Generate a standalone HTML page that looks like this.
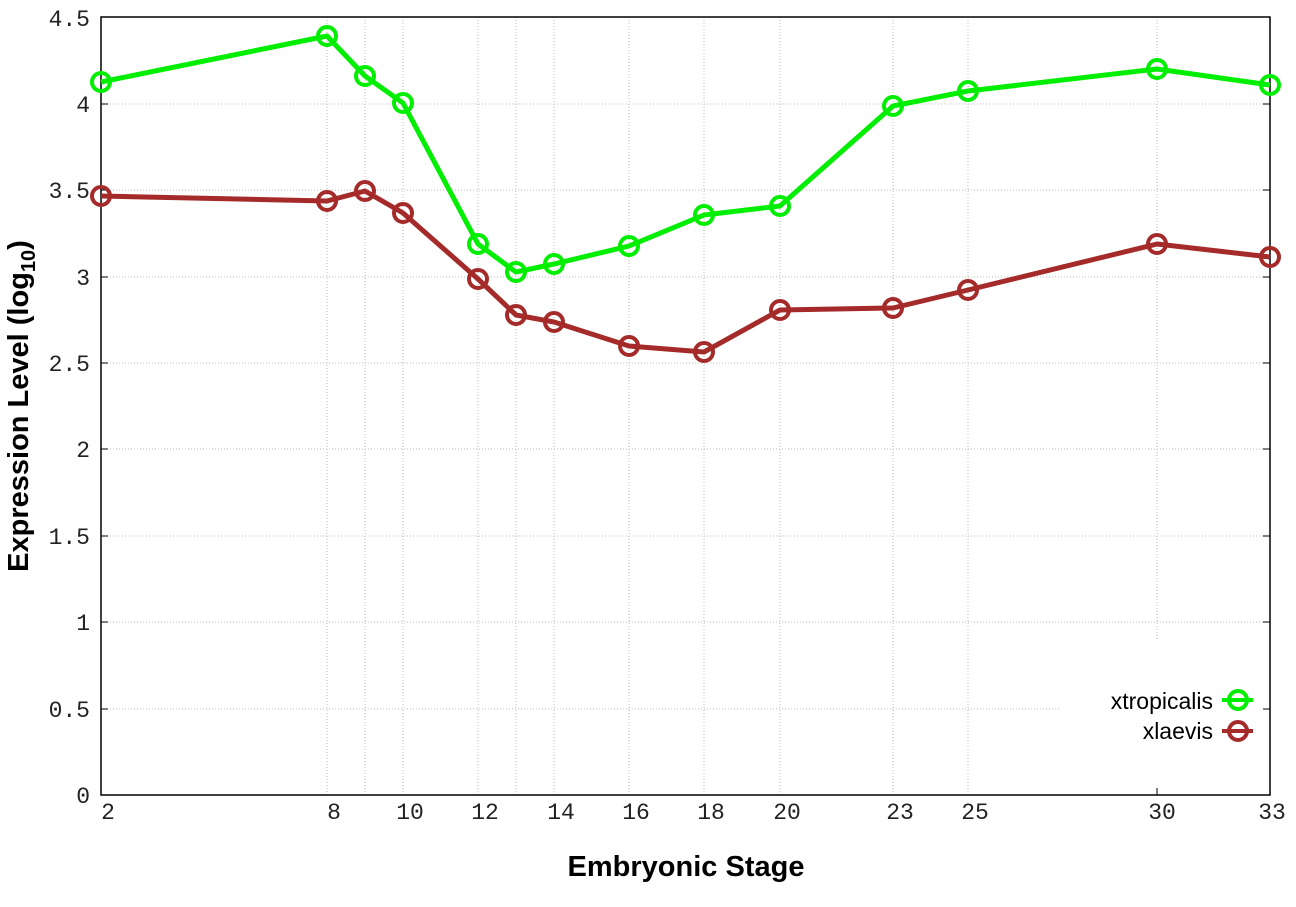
<!DOCTYPE html>
<html><head><style>body{margin:0;background:#fff}svg{display:block}</style></head><body>
<svg width="1296" height="907" xmlns="http://www.w3.org/2000/svg">
<rect width="1296" height="907" fill="#fff"/>
<g stroke="#bbb" stroke-width="1" stroke-dasharray="1,2">
<line x1="101" x2="1270" y1="104" y2="104"/><line x1="101" x2="1270" y1="190" y2="190"/><line x1="101" x2="1270" y1="277" y2="277"/><line x1="101" x2="1270" y1="363" y2="363"/><line x1="101" x2="1270" y1="449" y2="449"/><line x1="101" x2="1270" y1="536" y2="536"/><line x1="101" x2="1270" y1="622" y2="622"/><line x1="101" x2="1060" y1="709" y2="709"/>
<line x1="327" x2="327" y1="17" y2="795"/><line x1="365" x2="365" y1="17" y2="795"/><line x1="403" x2="403" y1="17" y2="795"/><line x1="478" x2="478" y1="17" y2="795"/><line x1="516" x2="516" y1="17" y2="795"/><line x1="554" x2="554" y1="17" y2="795"/><line x1="629" x2="629" y1="17" y2="795"/><line x1="704" x2="704" y1="17" y2="795"/><line x1="780" x2="780" y1="17" y2="795"/><line x1="893" x2="893" y1="17" y2="795"/><line x1="968" x2="968" y1="17" y2="795"/><line x1="1157" x2="1157" y1="17" y2="640"/>
</g>
<rect x="101" y="17" width="1169" height="778" fill="none" stroke="#000" stroke-width="1.5"/>
<g stroke="#000" stroke-width="1">
<line x1="101" x2="108" y1="104" y2="104"/><line x1="101" x2="108" y1="190" y2="190"/><line x1="101" x2="108" y1="277" y2="277"/><line x1="101" x2="108" y1="363" y2="363"/><line x1="101" x2="108" y1="449" y2="449"/><line x1="101" x2="108" y1="536" y2="536"/><line x1="101" x2="108" y1="622" y2="622"/><line x1="101" x2="108" y1="709" y2="709"/>
<line x1="1263" x2="1270" y1="104" y2="104"/><line x1="1263" x2="1270" y1="190" y2="190"/><line x1="1263" x2="1270" y1="277" y2="277"/><line x1="1263" x2="1270" y1="363" y2="363"/><line x1="1263" x2="1270" y1="449" y2="449"/><line x1="1263" x2="1270" y1="536" y2="536"/><line x1="1263" x2="1270" y1="622" y2="622"/><line x1="1263" x2="1270" y1="709" y2="709"/>
<line x1="1157" x2="1157" y1="788" y2="795"/>
</g>
<g font-family="Liberation Mono, monospace" font-size="23" fill="#222" text-anchor="end">
<text x="90" y="26">4.5</text><text x="90" y="112">4</text><text x="90" y="198">3.5</text><text x="90" y="285">3</text><text x="90" y="371">2.5</text><text x="90" y="457">2</text><text x="90" y="544">1.5</text><text x="90" y="630">1</text><text x="90" y="717">0.5</text><text x="90" y="803">0</text>
</g>
<g font-family="Liberation Mono, monospace" font-size="23" fill="#222" text-anchor="middle">
<text x="108" y="819">2</text><text x="334" y="819">8</text><text x="410" y="819">10</text><text x="485" y="819">12</text><text x="561" y="819">14</text><text x="636" y="819">16</text><text x="711" y="819">18</text><text x="787" y="819">20</text><text x="900" y="819">23</text><text x="975" y="819">25</text><text x="1162" y="819">30</text><text x="1272" y="819">33</text>
</g>
<text x="686" y="876" font-family="Liberation Sans, sans-serif" font-weight="bold" font-size="29" text-anchor="middle">Embryonic Stage</text>
<text transform="translate(28,406) rotate(-90)" font-family="Liberation Sans, sans-serif" font-weight="bold" font-size="29" text-anchor="middle">Expression Level (log<tspan font-size="20" dy="7">10</tspan><tspan dy="-7">)</tspan></text>
<g fill="none" stroke="#00ee00" stroke-width="5" stroke-linejoin="round">
<polyline points="101,82 327,36 365,76 403,103 478,244 516,272 554,264 629,246 704,215 780,206 893,106 968,91 1157,69 1270,85"/>
<g stroke-width="4"><circle cx="101" cy="82" r="9"/><circle cx="327" cy="36" r="9"/><circle cx="365" cy="76" r="9"/><circle cx="403" cy="103" r="9"/><circle cx="478" cy="244" r="9"/><circle cx="516" cy="272" r="9"/><circle cx="554" cy="264" r="9"/><circle cx="629" cy="246" r="9"/><circle cx="704" cy="215" r="9"/><circle cx="780" cy="206" r="9"/><circle cx="893" cy="106" r="9"/><circle cx="968" cy="91" r="9"/><circle cx="1157" cy="69" r="9"/><circle cx="1270" cy="85" r="9"/></g>
</g>
<g fill="none" stroke="#a52a2a" stroke-width="5" stroke-linejoin="round">
<polyline points="101,196 327,201 365,191 403,213 478,279 516,315 554,322 629,346 704,352 780,310 893,308 968,290 1157,244 1270,257"/>
<g stroke-width="4"><circle cx="101" cy="196" r="9"/><circle cx="327" cy="201" r="9"/><circle cx="365" cy="191" r="9"/><circle cx="403" cy="213" r="9"/><circle cx="478" cy="279" r="9"/><circle cx="516" cy="315" r="9"/><circle cx="554" cy="322" r="9"/><circle cx="629" cy="346" r="9"/><circle cx="704" cy="352" r="9"/><circle cx="780" cy="310" r="9"/><circle cx="893" cy="308" r="9"/><circle cx="968" cy="290" r="9"/><circle cx="1157" cy="244" r="9"/><circle cx="1270" cy="257" r="9"/></g>
</g>
<g font-family="Liberation Sans, sans-serif" font-size="23" fill="#000" text-anchor="end">
<text x="1213" y="709">xtropicalis</text><text x="1213" y="739">xlaevis</text>
</g>
<g fill="none" stroke-width="4">
<line x1="1222" x2="1253" y1="700" y2="700" stroke="#00ee00"/><circle cx="1238" cy="700" r="9" stroke="#00ee00"/>
<line x1="1222" x2="1253" y1="731" y2="731" stroke="#a52a2a"/><circle cx="1238" cy="731" r="9" stroke="#a52a2a"/>
</g>
</svg>
</body></html>
